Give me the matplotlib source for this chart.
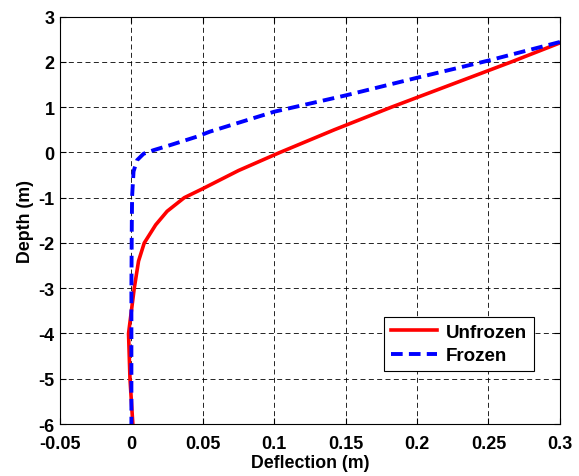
import matplotlib.pyplot as plt
import numpy as np

# 数据
unfrozen_depth = [2.42, 2.0, 1.5, 1.0, 0.5, 0.0, -0.4, -0.8, -1.0, -1.3, -1.6,
                  -2.0, -2.4, -3.0, -3.5, -4.0, -5.0, -6.0]
unfrozen_defl = [0.3, 0.266, 0.224, 0.182, 0.142, 0.104, 0.075, 0.05, 0.037, 0.025,
                 0.017, 0.009, 0.005, 0.002, 0.0, -0.002, -0.001, 0.001]

frozen_depth = [2.44, 2.03, 1.65, 1.26, 0.90, 0.46, 0.35, 0.16, 0.05, -0.03,
                -0.17, -0.42, -0.97, -1.5, -3.0, -6.0]
frozen_defl = [0.3, 0.25, 0.2, 0.15, 0.1, 0.055, 0.046, 0.027, 0.0155, 0.0085,
               0.004, 0.0015, 0.0005, 0.0003, 0.0, 0.0]

xticks = [-0.05, 0, 0.05, 0.1, 0.15, 0.2, 0.25, 0.3]
xticklabels = ['-0.05', '0', '0.05', '0.1', '0.15', '0.2', '0.25', '0.3']
yticks = list(range(-6, 4))

plt.rcParams['font.family'] = ['Liberation Sans', 'DejaVu Sans']
plt.rcParams['font.weight'] = 'bold'
plt.rcParams['axes.unicode_minus'] = False

fig = plt.figure(figsize=(5.79, 4.77), dpi=100)
ax = fig.add_axes([0.1036, 0.109, 0.8634, 0.854])

ax.plot(unfrozen_defl, unfrozen_depth, color='red', lw=2.6, label='Unfrozen')
ax.plot(frozen_defl, frozen_depth, color='blue', lw=2.8, ls=(0, (3, 1.6)), label='Frozen')

ax.set_xlim(-0.05, 0.3)
ax.set_ylim(-6, 3)
ax.set_xticks(xticks)
ax.set_xticklabels(xticklabels)
ax.set_yticks(yticks)
ax.tick_params(direction='in', top=True, right=True, labelsize=13, length=4)
ax.tick_params(axis='x', pad=8)
ax.tick_params(axis='y', pad=4)
for lab in ax.get_xticklabels() + ax.get_yticklabels():
    lab.set_fontweight('bold')

ax.grid(True, color='black', ls=(0, (6, 4)), lw=0.6)
ax.set_xlabel('Deflection (m)', fontsize=12.8, fontweight='bold', labelpad=1)
ax.set_ylabel('Depth (m)', fontsize=12.8, fontweight='bold', labelpad=3)

leg = ax.legend(loc='lower right', bbox_to_anchor=(0.948, 0.13), fontsize=13.5,
                fancybox=False, edgecolor='black', framealpha=1,
                handlelength=2.45, borderpad=0.35, labelspacing=0.35,
                handletextpad=0.5, borderaxespad=0)
leg.get_frame().set_linewidth(0.8)
for t in leg.get_texts():
    t.set_fontweight('bold')

plt.savefig('out.png', dpi=100)
